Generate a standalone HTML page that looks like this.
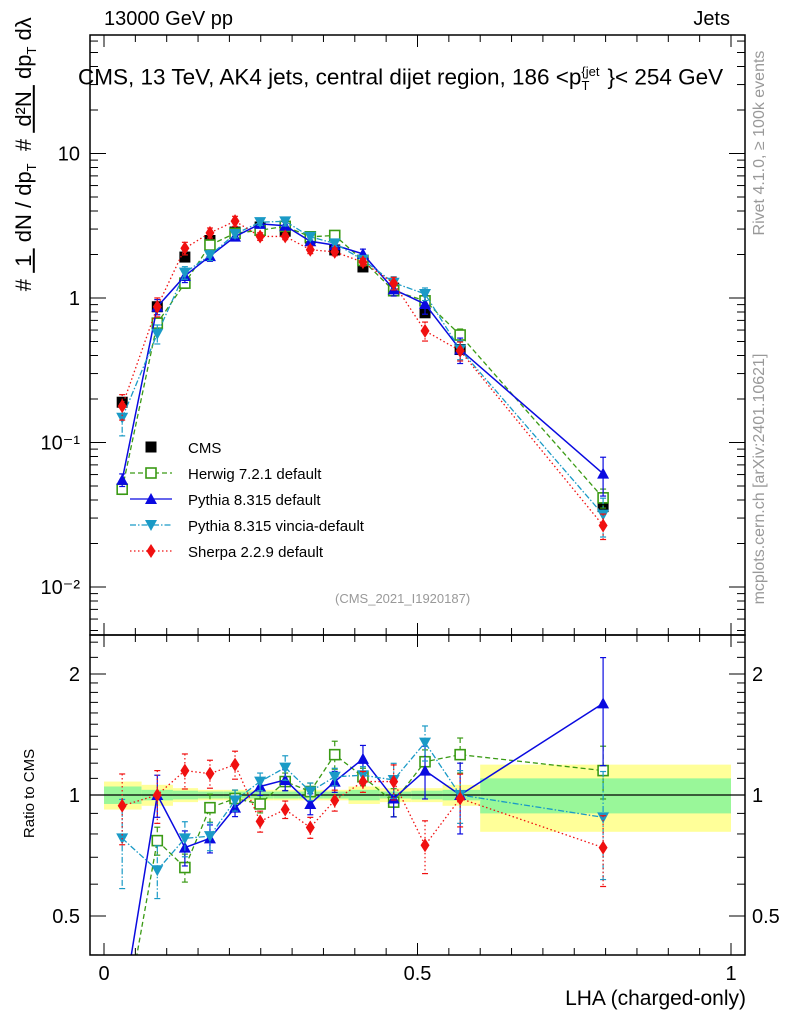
<!DOCTYPE html>
<html><head><meta charset="utf-8"><style>
body{margin:0;background:#fff}
svg{display:block;font-family:"Liberation Sans",sans-serif}
</style></head><body>
<svg id="chart" width="786" height="1024" viewBox="0 0 786 1024" xmlns="http://www.w3.org/2000/svg">
<g id="bands"></g>
<g id="marks"></g>
<g id="axes"></g>
</svg>
<script>
const binEdges=[0,0.06,0.11,0.15,0.19,0.23,0.27,0.31,0.35,0.39,0.44,0.49,0.54,0.6,1.0];
const xCenters=[0.029,0.085,0.129,0.169,0.209,0.249,0.289,0.329,0.368,0.413,0.462,0.512,0.568,0.796];
const cmsValues=[0.19,0.87,1.92,2.5,2.86,3.1,2.9,2.6,2.15,1.64,1.17,0.79,0.44,0.036];
const cmsErr=[0.08,0.06,0.04,0.03,0.03,0.03,0.03,0.03,0.03,0.05,0.04,0.04,0.06,0.19];
const statBand=[0.05,0.03,0.025,0.02,0.02,0.02,0.02,0.02,0.02,0.03,0.02,0.025,0.03,0.1];
const herwigRatio=[0.25,0.77,0.66,0.93,0.98,0.95,1.08,1.02,1.26,1.11,0.96,1.21,1.26,1.15];
const herwigErr=[0.08,0.08,0.08,0.08,0.05,0.05,0.05,0.05,0.08,0.05,0.08,0.07,0.1,0.15];
const pythiaRatio=[0.29,1.0,0.74,0.78,0.93,1.05,1.09,0.95,1.08,1.23,0.98,1.15,1.0,1.69];
const pythiaErr=[0.1,0.12,0.1,0.08,0.05,0.05,0.06,0.06,0.06,0.08,0.1,0.15,0.2,0.3];
const vinciaRatio=[0.78,0.65,0.78,0.79,0.97,1.08,1.17,1.02,1.11,1.12,1.09,1.35,1.0,0.88];
const vinciaErr=[0.25,0.15,0.1,0.08,0.06,0.05,0.07,0.05,0.05,0.05,0.1,0.1,0.15,0.3];
const sherpaRatio=[0.94,1.0,1.15,1.13,1.19,0.86,0.92,0.83,0.97,1.08,1.08,0.75,0.98,0.74];
const sherpaErr=[0.2,0.15,0.1,0.08,0.08,0.06,0.05,0.06,0.06,0.06,0.1,0.15,0.15,0.2];
const yTickLabels=["10","1","10\u207B\u00B9","10\u207B\u00B2"];
const yTickVals=[10,1,0.1,0.01];
const rTickVals=[2,1,0.5];
const rTickLabels=["2","1","0.5"];
const xTickVals=[0,0.5,1];
const xTickLabels=["0","0.5","1"];

const NS="http://www.w3.org/2000/svg";
const L=90,R=745,T=35,MB=635,RB=955;
const X=v=>104+627*v;
const Ym=v=>298-144.5*Math.log10(v);
const Yr=v=>795-121*Math.log2(v);
function el(tag,at,parent){const e=document.createElementNS(NS,tag);for(const k in at)e.setAttribute(k,at[k]);parent.appendChild(e);return e;}
const bands=document.getElementById('bands'),marks=document.getElementById('marks'),axes=document.getElementById('axes');

const defs=el('defs',{},document.getElementById('chart'));
const c1=el('clipPath',{id:'cm'},defs);el('rect',{x:L,y:T,width:R-L,height:MB-T},c1);
const c2=el('clipPath',{id:'cr'},defs);el('rect',{x:L,y:MB,width:R-L,height:RB-MB},c2);
bands.setAttribute('clip-path','url(#cr)');

for(let i=0;i<xCenters.length;i++){
  const x0=X(binEdges[i]),x1=X(binEdges[i+1]);
  const y=el('rect',{x:x0,y:Yr(1+cmsErr[i]),width:x1-x0,height:Yr(1-cmsErr[i])-Yr(1+cmsErr[i]),fill:'#ffff99'},bands);
  
  
  const g=el('rect',{x:x0,y:Yr(1+statBand[i]),width:x1-x0,height:Yr(1-statBand[i])-Yr(1+statBand[i]),fill:'#99f799'},bands);
  
  
}
el('line',{x1:L,x2:R,y1:Yr(1),y2:Yr(1),stroke:'#000','stroke-width':1.2},bands);

function marker(type,cx,cy,color,p){
  let m;
  if(type==='sq')m=el('rect',{x:cx-5.5,y:cy-5.5,width:11,height:11,fill:'#000'},p);
  else if(type==='osq')m=el('rect',{x:cx-5,y:cy-5,width:10,height:10,fill:'#fff',stroke:color,'stroke-width':1.6},p);
  else if(type==='up')m=el('polygon',{points:`${cx},${cy-6} ${cx-6},${cy+5} ${cx+6},${cy+5}`,fill:color},p);
  else if(type==='down')m=el('polygon',{points:`${cx},${cy+6} ${cx-6},${cy-5} ${cx+6},${cy-5}`,fill:color},p);
  else m=el('polygon',{points:`${cx},${cy-7} ${cx-4.5},${cy} ${cx},${cy+7} ${cx+4.5},${cy}`,fill:color},p);
  return m;
}
const series=[
 {name:'herwig',ratio:herwigRatio,err:herwigErr,color:'#3a9a14',dash:'5,3',mk:'osq',lw:1.3},
 {name:'pythia',ratio:pythiaRatio,err:pythiaErr,color:'#0a0ae0',dash:'',mk:'up',lw:1.5},
 {name:'vincia',ratio:vinciaRatio,err:vinciaErr,color:'#1a9ac6',dash:'6,2,1.5,2',mk:'down',lw:1.3},
 {name:'sherpa',ratio:sherpaRatio,err:sherpaErr,color:'#f01010',dash:'1.5,2.5',mk:'dia',lw:1.3}
];
const gm=el('g',{'clip-path':'url(#cm)'},marks),gr=el('g',{'clip-path':'url(#cr)'},marks);
for(let i=0;i<xCenters.length;i++){
  const cx=X(xCenters[i]),v=cmsValues[i];
  el('line',{x1:cx,x2:cx,y1:Ym(v*(1+cmsErr[i])),y2:Ym(v*(1-cmsErr[i])),stroke:'#000','stroke-width':1.2},gm);
  const m=marker('sq',cx,Ym(v),'#000',gm);
  
  
}
series.forEach(s=>{
  [[gm,i=>Ym(cmsValues[i]*s.ratio[i]),(i,f)=>Ym(cmsValues[i]*s.ratio[i]*f)],[gr,i=>Yr(s.ratio[i]),(i,f)=>Yr(s.ratio[i]*f)]].forEach(([g,fy,fe],pi)=>{
    const pts=xCenters.map((x,i)=>X(x)+','+fy(i)).join(' ');
    const pl=el('polyline',{points:pts,fill:'none',stroke:s.color,'stroke-width':s.lw,'stroke-dasharray':s.dash},g);
    
    
    for(let i=0;i<xCenters.length;i++){
      const cx=X(xCenters[i]);
      el('line',{x1:cx,x2:cx,y1:fe(i,1+s.err[i]),y2:fe(i,1-s.err[i]),stroke:s.color,'stroke-width':1.2,'stroke-dasharray':s.dash},g);
      el('line',{x1:cx-3,x2:cx+3,y1:fe(i,1+s.err[i]),y2:fe(i,1+s.err[i]),stroke:s.color,'stroke-width':1.2},g);
      el('line',{x1:cx-3,x2:cx+3,y1:fe(i,1-s.err[i]),y2:fe(i,1-s.err[i]),stroke:s.color,'stroke-width':1.2},g);
      const m=marker(s.mk,cx,fy(i),s.color,g);
      
      
    }
  });
});

el('rect',{x:L,y:T,width:R-L,height:MB-T,fill:'none',stroke:'#000','stroke-width':1.5},axes);
el('rect',{x:L,y:MB,width:R-L,height:RB-MB,fill:'none',stroke:'#000','stroke-width':1.5},axes);
for(let k=0;k<=20;k++){
  const v=k*0.05,x=X(v),len=(k%10===0)?12:7;
  [T,MB].forEach(y=>el('line',{x1:x,x2:x,y1:y,y2:y+len,stroke:'#000'},axes));
  [MB,RB].forEach(y=>el('line',{x1:x,x2:x,y1:y,y2:y-len,stroke:'#000'},axes));
}
xTickVals.forEach((v,i)=>{const t=el('text',{x:X(v),y:980,'font-size':20,'text-anchor':'middle'},axes);t.textContent=xTickLabels[i];

});
for(let d=-3;d<=1;d++){for(let m=1;m<10;m++){const v=m*Math.pow(10,d),y=Ym(v);if(y<T||y>MB)continue;const len=m===1?16:8;
el('line',{x1:L,x2:L+len,y1:y,y2:y,stroke:'#000'},axes);el('line',{x1:R,x2:R-len,y1:y,y2:y,stroke:'#000'},axes);}}
yTickVals.forEach((v,i)=>{const t=el('text',{x:80,y:Ym(v)+7,'font-size':20,'text-anchor':'end'},axes);t.textContent=yTickLabels[i];

});
[0.4,0.5,0.6,0.7,0.8,0.9,1,1.1,1.2,1.3,1.4,1.5,1.6,1.7,1.8,1.9,2,2.2,2.4].forEach(v=>{const y=Yr(v);const len=[0.5,1,2].includes(v)?16:8;
el('line',{x1:L,x2:L+len,y1:y,y2:y,stroke:'#000'},axes);el('line',{x1:R,x2:R-len,y1:y,y2:y,stroke:'#000'},axes);});
rTickVals.forEach((v,i)=>{
 const t=el('text',{x:80,y:Yr(v)+7,'font-size':20,'text-anchor':'end'},axes);t.textContent=rTickLabels[i];
 
 
 const t2=el('text',{x:752,y:Yr(v)+7,'font-size':20},axes);t2.textContent=rTickLabels[i];
 
 
});
const legend=[['CMS','sq','#000',''],['Herwig 7.2.1 default','osq','#3a9a14','5,3'],['Pythia 8.315 default','up','#0a0ae0',''],['Pythia 8.315 vincia-default','down','#1a9ac6','6,2,1.5,2'],['Sherpa 2.2.9 default','dia','#f01010','1.5,2.5']];
legend.forEach((e,i)=>{const y=447+i*26;const g=el('g',{},axes);


if(i>0)el('line',{x1:130,x2:172,y1:y,y2:y,stroke:e[2],'stroke-width':1.3,'stroke-dasharray':e[3]},g);
marker(e[1],151,y,e[2],g);
const t=el('text',{x:188,y:y+6,'font-size':15},g);t.textContent=e[0];});
</script>
<div style="position:absolute;left:0;top:0;width:786px;height:1024px;pointer-events:none;font-family:'Liberation Sans',sans-serif">
<div style="position:absolute;left:104px;top:8px;font-size:20px">13000 GeV pp</div>
<div style="position:absolute;right:56px;top:8px;font-size:20px">Jets</div>
<div style="position:absolute;left:78px;top:64px;font-size:22.5px;white-space:nowrap">CMS, 13 TeV, AK4 jets, central dijet region, 186 &lt;p<sub style="font-size:13px">T</sub><sup style="font-size:13px;position:relative;left:-8px">{jet</sup>}&lt; 254 GeV</div>
<div style="position:absolute;left:335px;top:591px;font-size:13px;color:#999">(CMS_2021_I1920187)</div>
<div style="position:absolute;right:40px;top:987px;font-size:21px">LHA (charged-only)</div>
<div style="position:absolute;left:-15px;top:785px;font-size:15px;transform:rotate(-90deg);white-space:nowrap">Ratio to CMS</div>
<div style="position:absolute;left:-135px;top:140px;width:320px;text-align:center;font-size:22px;transform:rotate(-90deg);white-space:nowrap"># <u>&nbsp;1&nbsp;</u> dN / dp<sub style="font-size:13px">T</sub> &nbsp;# <u>&nbsp;d²N&nbsp;</u> dp<sub style="font-size:13px">T</sub> dλ</div>
<div style="position:absolute;left:645px;top:134px;width:230px;font-size:16px;color:#999;transform:rotate(-90deg);white-space:nowrap;text-align:center">Rivet 4.1.0, ≥ 100k events</div>
<div style="position:absolute;left:605px;top:470px;width:310px;font-size:16px;color:#999;transform:rotate(-90deg);white-space:nowrap;text-align:center">mcplots.cern.ch [arXiv:2401.10621]</div>
</div>
</body></html>
